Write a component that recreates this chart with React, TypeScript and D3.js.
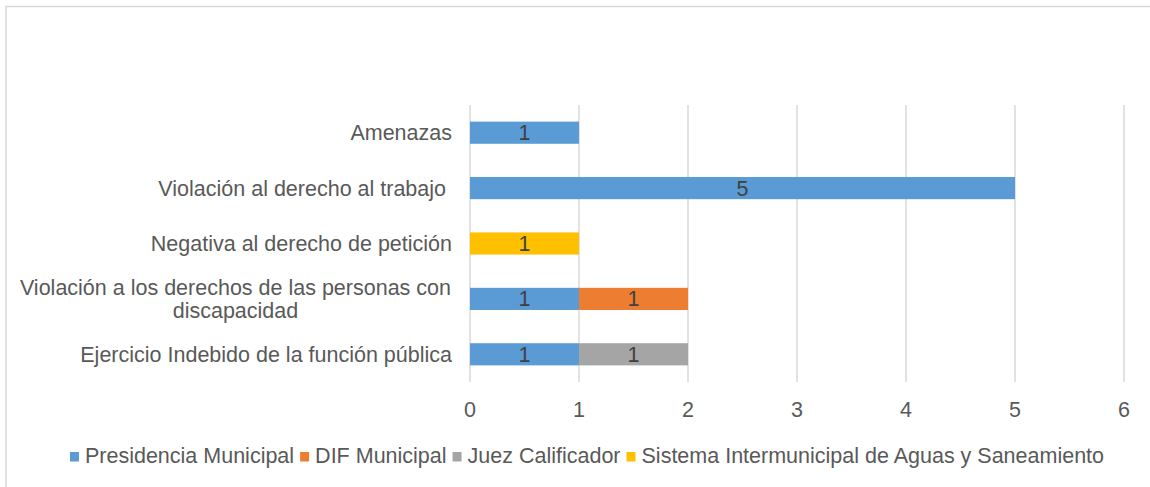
import React, { useEffect, useRef } from "react";
import * as d3 from "d3";

const categories = [
  "Amenazas",
  "Violación al derecho al trabajo ",
  "Negativa al derecho de petición",
  "Violación a los derechos de las personas con discapacidad",
  "Ejercicio Indebido de la función pública",
];
const categoryLines = [
  ["Amenazas"],
  ["Violación al derecho al trabajo "],
  ["Negativa al derecho de petición"],
  ["Violación a los derechos de las personas con", "discapacidad"],
  ["Ejercicio Indebido de la función pública"],
];
const seriesNames = [
  "Presidencia Municipal",
  "DIF Municipal",
  "Juez Calificador",
  "Sistema Intermunicipal de Aguas y Saneamiento",
];
const seriesColors = ["#5B9BD5", "#ED7D31", "#A5A5A5", "#FFC000"];
const presidencia = [1, 5, 0, 1, 1];
const dif = [0, 0, 0, 1, 0];
const juez = [0, 0, 0, 0, 1];
const sistema = [0, 0, 1, 0, 0];
const xTicks = [0, 1, 2, 3, 4, 5, 6];

const W = 1150;
const H = 487;
const FONT = "'Liberation Sans', Arial, sans-serif";
const FS = 21.5;

export default function App() {
  const ref = useRef<SVGSVGElement>(null);

  useEffect(() => {
    const svg = d3.select(ref.current);
    svg.selectAll("*").remove();

    svg
      .append("rect")
      .attr("x", 6)
      .attr("y", 6.5)
      .attr("width", 1170)
      .attr("height", 500)
      .attr("fill", "#fff")
      .attr("stroke", "#d9d9d9")
      .attr("stroke-width", 1.5);

    const x = d3.scaleLinear().domain([0, 6]).range([470, 1124]);
    const y = d3
      .scaleBand<string>()
      .domain(categories)
      .range([105, 382])
      .paddingInner(0.6)
      .paddingOuter(0.3);

    svg
      .append("g")
      .selectAll("line")
      .data(xTicks)
      .join("line")
      .attr("x1", (d) => x(d))
      .attr("x2", (d) => x(d))
      .attr("y1", 105)
      .attr("y2", 382)
      .attr("stroke", "#d9d9d9")
      .attr("stroke-width", 1.5);

    svg
      .append("g")
      .selectAll("text")
      .data(xTicks)
      .join("text")
      .attr("x", (d) => x(d))
      .attr("y", 416.5)
      .attr("text-anchor", "middle")
      .attr("font-family", FONT)
      .attr("font-size", FS)
      .attr("fill", "#595959")
      .text((d) => String(d));

    const rows = categories.map((c, i) => ({
      cat: c,
      s0: presidencia[i],
      s1: dif[i],
      s2: juez[i],
      s3: sistema[i],
    }));
    const stack = d3.stack<any>().keys(["s0", "s1", "s2", "s3"]);
    const stacked = stack(rows);

    const bw = y.bandwidth();
    stacked.forEach((layer, si) => {
      const g = svg.append("g");
      const data = layer.filter((d) => d[1] - d[0] > 0);
      g.selectAll("rect")
        .data(data)
        .join("rect")
        .attr("x", (d) => x(d[0]))
        .attr("width", (d) => x(d[1]) - x(d[0]))
        .attr("y", (d) => y(d.data.cat)!)
        .attr("height", bw)
        .attr("fill", seriesColors[si]);
      g.selectAll("text")
        .data(data)
        .join("text")
        .attr("x", (d) => (x(d[0]) + x(d[1])) / 2)
        .attr("y", (d) => y(d.data.cat)! + bw / 2 + 7.5)
        .attr("text-anchor", "middle")
        .attr("font-family", FONT)
        .attr("font-size", FS)
        .attr("fill", "#404040")
        .text((d) => String(d[1] - d[0]));
    });

    const cg = svg.append("g");
    categories.forEach((c, i) => {
      const lines = categoryLines[i];
      const cy = y(c)! + bw / 2;
      const lh = 23;
      const t = cg
        .append("text")
        .attr("font-family", FONT)
        .attr("font-size", FS)
        .attr("fill", "#595959")
        .attr("xml:space", "preserve")
        .style("white-space", "pre");
      if (lines.length === 1) {
        t.append("tspan")
          .attr("x", 452)
          .attr("y", cy + 7.5)
          .attr("text-anchor", "end")
          .text(lines[0]);
      } else {
        const tmp = cg
          .append("text")
          .attr("font-family", FONT)
          .attr("font-size", FS)
          .text(lines[0]);
        const wmax = (tmp.node() as SVGTextElement).getComputedTextLength();
        tmp.remove();
        const center = 451 - wmax / 2;
        lines.forEach((ln, li) => {
          t.append("tspan")
            .attr("x", center)
            .attr("y", cy + 7.5 + (li - (lines.length - 1) / 2) * lh)
            .attr("text-anchor", "middle")
            .text(ln);
        });
      }
    });

    const lg = svg.append("g");
    const items = seriesNames.map((n, i) => {
      const g = lg.append("g");
      g.append("rect")
        .attr("x", 0)
        .attr("y", 452)
        .attr("width", 9)
        .attr("height", 9.5)
        .attr("fill", seriesColors[i]);
      const t = g
        .append("text")
        .attr("x", 15)
        .attr("y", 462.5)
        .attr("font-family", FONT)
        .attr("font-size", FS)
        .attr("fill", "#595959")
        .text(n);
      const w = (t.node() as SVGTextElement).getComputedTextLength();
      return { g, w: 15 + w };
    });
    const gap = 6;
    const total = items.reduce((a, b) => a + b.w, 0) + gap * (items.length - 1);
    let cx = 587 - total / 2;
    items.forEach((it) => {
      it.g.attr("transform", `translate(${cx},0)`);
      cx += it.w + gap;
    });
  }, []);

  return (
    <svg
      ref={ref}
      width={W}
      height={H}
      style={{ position: "absolute", left: 0, top: 0, display: "block" }}
    />
  );
}
